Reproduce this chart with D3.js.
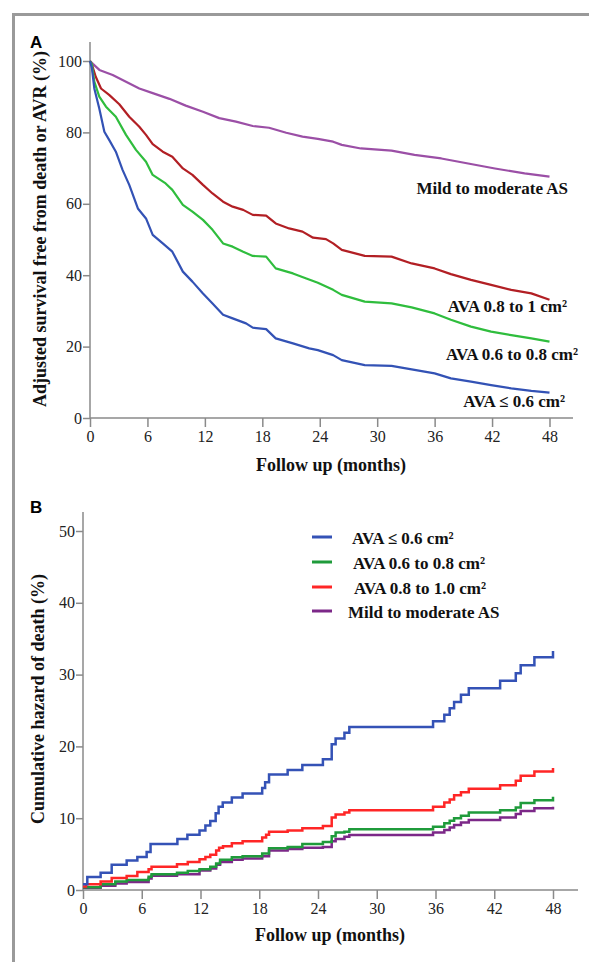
<!DOCTYPE html>
<html>
<head>
<meta charset="utf-8">
<script src="https://cdn.jsdelivr.net/npm/d3@7"></script>
<style>
  body { margin: 0; background: #fff; }
  svg { display: block; }
  .tick text { font-family: "Liberation Serif", serif; font-size: 16px; fill: #222; }
  .tick line { stroke: #8a8a8a; stroke-width: 1.5; }
  .axisTitle { font-family: "Liberation Serif", serif; font-weight: bold; font-size: 18px; fill: #111; }
  .lineLabel { font-family: "Liberation Serif", serif; font-weight: bold; font-size: 17px; fill: #111; }
  .panelLetter { font-family: "Liberation Sans", sans-serif; font-weight: bold; font-size: 17px; fill: #000; }
</style>
</head>
<body>
<div id="chart"></div>
<script>
// Panel A: adjusted survival free from death or AVR (%), [month, value]
var survSevere = [[0,100],[0.2,98],[0.45,92.3],[0.97,86.7],[1.5,80.2],[2,77.9],[2.7,74.6],[3.4,69.5],[4.1,65.3],[5,58.7],[5.85,55.9],[6.55,51.3],[7.6,48.9],[8.6,46.6],[9.7,41],[10.7,38.2],[11.8,34.9],[12.8,32.1],[13.9,28.9],[14.9,27.9],[16.3,26.5],[17,25.3],[18.4,24.9],[19.4,22.3],[21.2,20.9],[22.9,19.5],[23.8,19],[25.4,17.6],[26.3,16.2],[28.7,14.8],[31.5,14.6],[33.6,13.6],[36,12.5],[37.7,11.1],[39.8,10.2],[41.9,9.2],[44,8.3],[46.1,7.6],[48,7.1]];
var survMid = [[0,100],[0.2,99],[0.45,94.2],[0.97,90],[1.67,87.2],[2.7,84.4],[3.76,79.3],[4.8,75.1],[5.85,71.8],[6.55,68.1],[7.9,65.7],[8.6,63.9],[9.7,59.7],[10.7,57.8],[11.8,55.5],[12.8,52.7],[13.9,48.9],[14.9,48],[16,46.6],[17,45.4],[18.4,45.2],[19.4,41.9],[21.2,40.5],[22.6,39.1],[23.8,37.9],[25.4,35.9],[26.3,34.5],[28.7,32.6],[31.5,32.1],[33.6,31],[36,29.3],[37.7,27.5],[39.8,25.6],[41.9,24.2],[44,23.2],[46.1,22.3],[48,21.4]];
var survLarge = [[0,100],[0.2,99],[0.6,95.6],[1.15,92.3],[2,90.5],[3.06,87.9],[4.1,84.4],[5.15,81.6],[5.85,79.3],[6.55,76.7],[7.6,74.6],[8.6,73.2],[9.7,69.9],[10.7,68.1],[11.8,65.3],[12.8,62.9],[13.9,60.6],[14.9,59.2],[16,58.3],[17,56.9],[18.4,56.7],[19.4,54.5],[20.8,53.1],[22.2,52.2],[23.3,50.5],[24.65,50.1],[25.4,48.9],[26.3,47.1],[28.7,45.4],[31.5,45.2],[33.6,43.3],[36,41.9],[37.7,40.3],[39.8,38.7],[41.9,37.3],[44,35.9],[46.1,34.9],[48,33.1]];
var survMild = [[0,100],[0.3,99.2],[0.98,97.5],[2.37,96.1],[3.76,94.2],[5.15,92.3],[6.55,91],[8.3,89.4],[10,87.5],[11.8,85.8],[13.5,84],[15.25,83],[17,81.8],[18.7,81.3],[20.5,79.9],[22.2,78.8],[23.8,78.2],[25.4,77.4],[26.3,76.5],[28.3,75.5],[31.5,74.9],[33.9,73.7],[36.7,72.7],[39.5,71.3],[42.3,69.9],[45.4,68.5],[48,67.6]];

// Panel B: cumulative hazard of death (%), [month, value]
var hazSevere = [[0,0.8],[0.44,1.8],[1.8,2.4],[2.93,3.5],[4.46,4.1],[5.55,4.6],[6.5,5.3],[6.9,6.4],[9.64,7.1],[10.66,7.7],[11.9,8.3],[12.5,9],[13,9.6],[13.55,10.7],[13.85,11.6],[14.27,12.2],[15.2,12.9],[16.3,13.45],[18.3,14.2],[18.6,15],[19,16.1],[20.9,16.7],[22.4,17.4],[24.5,18.2],[25.4,20.3],[25.8,21.1],[26.7,21.9],[27.2,22.7],[35.75,23.5],[36.9,24.4],[37.45,25.3],[37.9,26.2],[38.6,27.2],[39.4,28.1],[42.6,29.15],[44.2,30.2],[44.7,31.3],[46.1,32.4],[48,33.3]];
var hazMid = [[0,0.4],[1.8,0.8],[3.3,1.2],[4.46,1.4],[6.7,1.86],[7,2.2],[9.6,2.4],[10.7,2.65],[11.9,2.9],[13,3.25],[13.6,3.7],[14,4.2],[15.2,4.55],[16.3,4.7],[18.3,5.1],[19,5.8],[20.9,6],[22.4,6.4],[24.5,6.7],[25.4,7.5],[25.8,8],[26.7,8.1],[27.2,8.45],[35.75,8.8],[36.9,9.3],[37.45,9.65],[37.9,10],[38.6,10.35],[39.4,10.8],[42.6,11.1],[44.2,11.5],[44.7,12.1],[46.1,12.5],[48,13]];
var hazLarge = [[0,0.5],[0.3,0.8],[1.8,1.2],[2.93,1.67],[4.46,1.95],[5.55,2.5],[6.7,2.9],[7,3.25],[9.6,3.6],[10.7,3.9],[11.9,4.3],[12.5,4.6],[13,4.9],[13.6,5.5],[13.9,5.9],[14.3,6.1],[15.2,6.5],[16.3,6.8],[18.3,7.3],[18.7,7.7],[19,8.1],[20.9,8.3],[22.4,8.6],[24.5,8.9],[25.4,10.1],[25.8,10.5],[26.7,10.8],[27.2,11.1],[35.75,11.6],[36.9,12.2],[37.45,12.6],[37.9,13.2],[38.6,13.6],[39.4,14.1],[42.6,14.6],[44.2,15.2],[44.7,15.9],[46.1,16.5],[48,17]];
var hazMild = [[0,0.3],[1.8,0.6],[3.3,0.9],[4.46,1.1],[6.7,1.6],[7,2],[9.6,2.2],[11.9,2.7],[13,3],[13.6,3.5],[14,3.9],[15.2,4.2],[16.3,4.4],[18.3,4.7],[19,5.5],[20.9,5.7],[22.4,5.9],[24.5,6],[25.4,6.8],[25.8,7.1],[26.7,7.4],[27.2,7.66],[35.75,8],[36.9,8.35],[37.45,8.7],[37.9,9.05],[38.6,9.4],[39.4,9.75],[42.6,10.1],[44.2,10.6],[44.7,11],[46.1,11.4],[48,11.6]];

var monthTicks = [0, 6, 12, 18, 24, 30, 36, 42, 48];
var survTicks = [0, 20, 40, 60, 80, 100];
var hazTicks = [0, 10, 20, 30, 40, 50];

var labelsA = ["Mild to moderate AS", "AVA 0.8 to 1 cm\u00b2", "AVA 0.6 to 0.8 cm\u00b2", "AVA \u2264 0.6 cm\u00b2"];
var labelsB = ["AVA \u2264 0.6 cm\u00b2", "AVA 0.6 to 0.8 cm\u00b2", "AVA 0.8 to 1.0 cm\u00b2", "Mild to moderate AS"];

var svgWidth = 589;
var svgHeight = 962;

var svg = d3.select("#chart")
  .append("svg")
  .attr("width", svgWidth)
  .attr("height", svgHeight);

// Gray frame on top and left
svg.append("line").attr("x1", 12).attr("x2", svgWidth).attr("y1", 14.5).attr("y2", 14.5)
  .attr("stroke", "#9a9a9a").attr("stroke-width", 3);
svg.append("line").attr("x1", 13.5).attr("x2", 13.5).attr("y1", 13).attr("y2", svgHeight)
  .attr("stroke", "#9a9a9a").attr("stroke-width", 3);

var axisColor = "#8a8a8a";

function drawAxes(xScale, yScale, yTicks, yTop, xRight, titleX, titleY, yTitle, yTitleX, yTitleY) {
  var x0 = xScale(0), y0 = yScale(0);

  svg.append("g")
    .attr("transform", `translate(${x0},0)`)
    .call(d3.axisLeft(yScale).tickValues(yTicks).tickSize(7).tickPadding(1).tickSizeOuter(0))
    .call(g => g.select(".domain").remove());

  svg.append("g")
    .attr("transform", `translate(0,${y0})`)
    .call(d3.axisBottom(xScale).tickValues(monthTicks).tickSize(9).tickPadding(4).tickSizeOuter(0))
    .call(g => g.select(".domain").remove());

  svg.append("line").attr("x1", x0).attr("x2", x0).attr("y1", yTop).attr("y2", y0)
    .attr("stroke", axisColor).attr("stroke-width", 1.5);
  svg.append("line").attr("x1", x0).attr("x2", xRight).attr("y1", y0).attr("y2", y0)
    .attr("stroke", axisColor).attr("stroke-width", 1.5);

  svg.append("text")
    .attr("class", "axisTitle")
    .attr("x", titleX)
    .attr("y", titleY)
    .attr("text-anchor", "middle")
    .text("Follow up (months)");

  svg.append("text")
    .attr("class", "axisTitle")
    .attr("transform", `translate(${yTitleX},${yTitleY}) rotate(-90)`)
    .attr("text-anchor", "middle")
    .attr("dy", "0.35em")
    .text(yTitle);
}

// ---------- Panel A ----------
var xA = d3.scaleLinear().domain([0, 48]).range([90, 549.5]);
var yA = d3.scaleLinear().domain([0, 100]).range([418, 61]);

svg.append("text").attr("class", "panelLetter").attr("x", 30).attr("y", 48).text("A");

drawAxes(xA, yA, survTicks, 42, 573, 331, 471,
  "Adjusted survival free from death or AVR (%)", 40, 229);

// many small steps at this size read as a jagged line
var lineA = d3.line()
  .x(d => xA(d[0]))
  .y(d => yA(d[1]));

var seriesA = [
  { data: survMild, color: "#9b4fa6" },
  { data: survLarge, color: "#b21f24" },
  { data: survMid, color: "#2fbd3d" },
  { data: survSevere, color: "#3352b5" }
];

seriesA.forEach(s => {
  svg.append("path")
    .datum(s.data)
    .attr("fill", "none")
    .attr("stroke", s.color)
    .attr("stroke-width", 2.2)
    .attr("stroke-linejoin", "round")
    .attr("d", lineA);
});

var labelPosA = [[568, 194], [567, 312], [578, 360], [565, 407]];
labelsA.forEach((t, i) => {
  svg.append("text")
    .attr("class", "lineLabel")
    .attr("x", labelPosA[i][0])
    .attr("y", labelPosA[i][1])
    .attr("text-anchor", "end")
    .text(t);
});

// ---------- Panel B ----------
var xB = d3.scaleLinear().domain([0, 48]).range([83, 553]);
var yB = d3.scaleLinear().domain([0, 50]).range([890, 531]);

svg.append("text").attr("class", "panelLetter").attr("x", 30).attr("y", 513).text("B");

drawAxes(xB, yB, hazTicks, 512, 578, 330, 941,
  "Cumulative hazard of death (%)", 38, 699);

var lineB = d3.line()
  .x(d => xB(d[0]))
  .y(d => yB(d[1]))
  .curve(d3.curveStepAfter);

var seriesB = [
  { data: hazSevere, color: "#3452b6" },
  { data: hazMid, color: "#1f9b3b" },
  { data: hazLarge, color: "#ff2626" },
  { data: hazMild, color: "#7c2888" }
];

// draw bottom-most first so higher curves sit on top
[3, 1, 2, 0].forEach(i => {
  svg.append("path")
    .datum(seriesB[i].data)
    .attr("fill", "none")
    .attr("stroke", seriesB[i].color)
    .attr("stroke-width", 2.5)
    .attr("d", lineB);
});

// Legend
var legendY = [537, 562, 587, 611];
var legendTextX = [352, 353, 354, 348];
labelsB.forEach((t, i) => {
  svg.append("line")
    .attr("x1", 312).attr("x2", 332)
    .attr("y1", legendY[i]).attr("y2", legendY[i])
    .attr("stroke", seriesB[i].color)
    .attr("stroke-width", 3);
  svg.append("text")
    .attr("class", "lineLabel")
    .attr("x", legendTextX[i])
    .attr("y", legendY[i] + 6.5)
    .text(t);
});
</script>
</body>
</html>
